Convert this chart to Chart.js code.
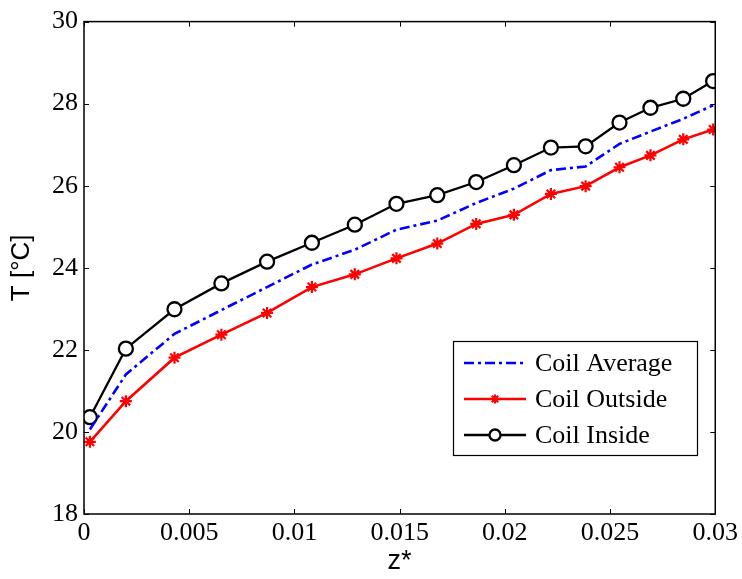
<!DOCTYPE html>
<html>
<head>
<meta charset="utf-8">
<script src="https://cdn.jsdelivr.net/npm/chart.js@4.4.1/dist/chart.umd.min.js"></script>
<style>
  html, body { margin: 0; padding: 0; background: #fff; }
  #wrap { width: 742px; height: 579px; }
</style>
</head>
<body>
<div id="wrap"><canvas id="chart" width="742" height="579"></canvas></div>
<script>
// data
const zValues  = [0.00028, 0.00199, 0.00430, 0.00653, 0.00870, 0.01083, 0.01287, 0.01485, 0.01679, 0.01864, 0.02043, 0.02219, 0.02384, 0.02545, 0.02692, 0.02848, 0.02990];
const tAverage = [20.06, 21.40, 22.39, 22.97, 23.53, 24.08, 24.44, 24.93, 25.15, 25.58, 25.93, 26.38, 26.47, 27.02, 27.32, 27.63, 27.96];
const tOutside = [19.76, 20.75, 21.81, 22.37, 22.90, 23.53, 23.84, 24.23, 24.59, 25.07, 25.29, 25.80, 25.99, 26.45, 26.74, 27.13, 27.37];
const tInside  = [20.36, 22.03, 22.99, 23.62, 24.15, 24.61, 25.05, 25.56, 25.77, 26.09, 26.50, 26.93, 26.96, 27.54, 27.90, 28.12, 28.55];
const seriesNames = ['Coil Average', 'Coil Outside', 'Coil Inside'];
const xLabel = 'z*';
const yLabel = 'T [°C]';

const pts = arr => arr.map((v, i) => ({ x: zValues[i], y: v }));
const serif = "'Liberation Serif', 'Times New Roman', serif";
const sans = "'Liberation Sans', Arial, sans-serif";

// box round the plot with inward ticks on all four sides (matlab style)
const boxPlugin = {
    id: 'box',
    afterDraw(chart) {
        const { ctx, chartArea: a, scales } = chart;
        ctx.save();
        ctx.strokeStyle = '#000';
        ctx.lineWidth = 1.5;
        ctx.strokeRect(a.left, a.top, a.right - a.left, a.bottom - a.top);
        ctx.lineWidth = 1;
        const len = 5;
        scales.x.ticks.forEach(t => {
            const px = Math.round(scales.x.getPixelForValue(t.value)) + 0.5;
            ctx.beginPath();
            ctx.moveTo(px, a.bottom); ctx.lineTo(px, a.bottom - len);
            ctx.moveTo(px, a.top); ctx.lineTo(px, a.top + len);
            ctx.stroke();
        });
        scales.y.ticks.forEach(t => {
            const py = Math.round(scales.y.getPixelForValue(t.value)) + 0.5;
            ctx.beginPath();
            ctx.moveTo(a.left, py); ctx.lineTo(a.left + len, py);
            ctx.moveTo(a.right, py); ctx.lineTo(a.right - len, py);
            ctx.stroke();
        });
        ctx.restore();
    }
};

// legend box in lower right, like the figure
const legendPlugin = {
    id: 'boxLegend',
    afterDraw(chart) {
        const ctx = chart.ctx;
        const x0 = 453, y0 = 341, w = 244, h = 114;
        ctx.save();
        ctx.fillStyle = '#fff';
        ctx.fillRect(x0, y0, w, h);
        ctx.strokeStyle = '#000';
        ctx.lineWidth = 1.2;
        ctx.strokeRect(x0 + 0.5, y0 + 0.5, w, h);
        ctx.font = '26px ' + serif;
        ctx.textBaseline = 'middle';
        chart.data.datasets.forEach((ds, i) => {
            const y = 363 + i * 36;
            ctx.strokeStyle = ds.borderColor;
            ctx.lineWidth = ds.borderWidth;
            ctx.setLineDash(ds.borderDash || []);
            ctx.beginPath();
            ctx.moveTo(464, y); ctx.lineTo(526, y);
            ctx.stroke();
            ctx.setLineDash([]);
            if (ds.pointRadius > 0) {
                ctx.strokeStyle = ds.pointBorderColor;
                ctx.fillStyle = ds.pointBackgroundColor;
                ctx.lineWidth = ds.pointBorderWidth;
                Chart.helpers.drawPoint(ctx, { pointStyle: ds.pointStyle, radius: ds.pointRadius - 1.5, rotation: 0, borderWidth: ds.pointBorderWidth }, 495, y);
            }
            ctx.fillStyle = '#000';
            ctx.fillText(ds.label, 535, y + 1);
        });
        ctx.restore();
    }
};

new Chart(document.getElementById('chart'), {
    type: 'line',
    data: {
        datasets: [
            { label: seriesNames[0], data: pts(tAverage), borderColor: '#0000ff', borderWidth: 2.6, borderDash: [10, 4, 3, 4], pointRadius: 0, tension: 0 },
            { label: seriesNames[1], data: pts(tOutside), borderColor: '#ff0000', borderWidth: 2.6, pointStyle: 'star', pointRadius: 6, pointBorderWidth: 2.2, pointBorderColor: '#ff0000', pointBackgroundColor: '#ff0000', tension: 0 },
            { label: seriesNames[2], data: pts(tInside), borderColor: '#000000', borderWidth: 2.3, pointStyle: 'circle', pointRadius: 7, pointBorderWidth: 2.3, pointBorderColor: '#000000', pointBackgroundColor: '#ffffff', tension: 0 }
        ]
    },
    options: {
        responsive: false,
        animation: false,
        devicePixelRatio: 1,
        layout: { padding: { top: 17, right: 24, left: 0, bottom: 0 } },
        plugins: { legend: { display: false }, tooltip: { enabled: false } },
        scales: {
            x: {
                type: 'linear', min: 0, max: 0.03,
                grid: { display: false, drawTicks: false },
                border: { display: false },
                ticks: {
                    stepSize: 0.005, padding: 4, color: '#000',
                    font: { family: serif, size: 26 },
                    maxRotation: 0, autoSkip: false,
                    callback: v => String(+v.toFixed(3))
                },
                title: { display: true, text: xLabel, color: '#000', font: { family: sans, size: 27 }, padding: { top: 0, bottom: 1 } },
                afterFit(s) { s.height = 65; }
            },
            y: {
                min: 18, max: 30,
                grid: { display: false, drawTicks: false },
                border: { display: false },
                ticks: { stepSize: 2, padding: 6, color: '#000', font: { family: serif, size: 26 } },
                title: { display: true, text: yLabel, color: '#000', font: { family: sans, size: 26 }, padding: { top: 6, bottom: 0 } },
                afterFit(s) { s.width = 84; }
            }
        }
    },
    plugins: [boxPlugin, legendPlugin]
});
</script>
</body>
</html>
